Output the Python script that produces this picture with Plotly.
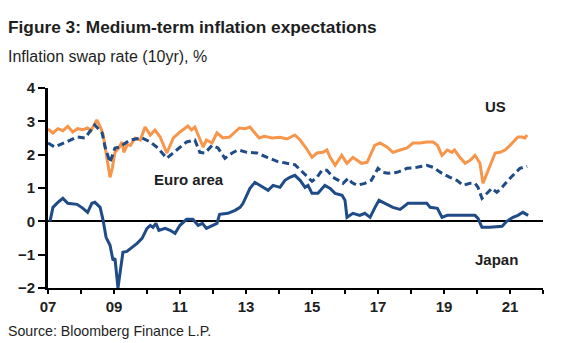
import plotly.graph_objects as go

us_x = [2007.0, 2007.15, 2007.3, 2007.45, 2007.6, 2007.75, 2007.9, 2008.05, 2008.2, 2008.3, 2008.48, 2008.6,
        2008.67, 2008.75, 2008.88, 2008.95, 2009.03, 2009.15, 2009.24, 2009.3, 2009.4, 2009.5, 2009.64, 2009.8,
        2009.94, 2010.1, 2010.24, 2010.4, 2010.6, 2010.8, 2011.0, 2011.24, 2011.35, 2011.45, 2011.6, 2011.7,
        2011.8, 2011.97, 2012.12, 2012.3, 2012.5, 2012.67, 2012.8, 2012.97, 2013.12, 2013.27, 2013.4, 2013.55,
        2013.8, 2014.03, 2014.24, 2014.48, 2014.64, 2014.8, 2015.0, 2015.15, 2015.33, 2015.45, 2015.55, 2015.7,
        2015.9, 2016.06, 2016.24, 2016.5, 2016.67, 2016.9, 2017.06, 2017.27, 2017.45, 2017.67, 2017.88, 2018.06,
        2018.27, 2018.48, 2018.67, 2018.8, 2018.94, 2019.1, 2019.24, 2019.32, 2019.48, 2019.64, 2019.79, 2019.94,
        2020.09, 2020.18, 2020.33, 2020.55, 2020.7, 2020.85, 2021.0, 2021.15, 2021.24, 2021.36, 2021.45, 2021.52]
us_y = [2.77, 2.65, 2.78, 2.72, 2.85, 2.68, 2.78, 2.75, 2.8, 2.72, 3.04, 2.8,
        2.6, 2.1, 1.32, 1.6, 2.07, 2.2, 2.38, 2.07, 2.3, 2.28, 2.5, 2.44,
        2.83, 2.59, 2.74, 2.53, 2.05, 2.5, 2.68, 2.86, 2.74, 2.83, 2.44, 2.23,
        2.44, 2.35, 2.65, 2.5, 2.53, 2.68, 2.8, 2.78, 2.83, 2.65, 2.5, 2.55,
        2.5, 2.52, 2.47, 2.59, 2.44, 2.23, 1.92, 2.05, 2.07, 2.14, 1.92, 1.68,
        1.98, 1.74, 1.92, 1.74, 1.77, 2.28, 2.35, 2.23, 2.07, 2.14, 2.2, 2.35,
        2.35, 2.38, 2.38, 2.28, 1.98, 2.14, 2.07, 2.14, 1.92, 1.74, 1.83, 1.98,
        1.74, 1.14, 1.53, 2.05, 2.07, 2.14, 2.28, 2.44, 2.53, 2.53, 2.5, 2.59]

eu_x = [2007.0, 2007.2, 2007.55, 2007.88, 2008.12, 2008.42, 2008.64, 2008.73, 2008.88, 2009.03, 2009.18, 2009.48,
        2009.85, 2010.1, 2010.33, 2010.6, 2010.9, 2011.2, 2011.45, 2011.6, 2011.76, 2011.97, 2012.15, 2012.36,
        2012.58, 2012.76, 2013.03, 2013.33, 2013.64, 2013.94, 2014.24, 2014.48, 2014.64, 2014.85, 2015.0, 2015.15,
        2015.3, 2015.45, 2015.64, 2015.8, 2015.94, 2016.1, 2016.2, 2016.36, 2016.6, 2016.8, 2017.0, 2017.15,
        2017.3, 2017.58, 2017.88, 2018.18, 2018.48, 2018.67, 2018.94, 2019.18, 2019.39, 2019.58, 2019.79, 2019.94,
        2020.03, 2020.15, 2020.3, 2020.45, 2020.6, 2020.76, 2020.94, 2021.15, 2021.3, 2021.52]
eu_y = [2.35, 2.23, 2.38, 2.53, 2.5, 2.89, 2.65, 2.23, 1.77, 2.2, 2.23, 2.44,
        2.5, 2.38, 2.2, 1.89, 2.14, 2.38, 2.44, 2.07, 2.05, 2.28, 2.2, 1.89,
        2.05, 2.14, 2.07, 2.05, 1.92, 1.8, 1.74, 1.7, 1.55, 1.35, 1.2, 1.32,
        1.53, 1.53, 1.32, 1.23, 1.14, 1.29, 1.17, 1.08, 1.14, 1.23, 1.59, 1.47,
        1.44, 1.47, 1.59, 1.62, 1.68, 1.62, 1.44, 1.32, 1.23, 1.08, 1.14, 1.14,
        1.02, 0.69, 0.84, 0.99, 0.87, 1.02, 1.23, 1.44, 1.59, 1.65]

jp_x = [2007.06, 2007.15, 2007.3, 2007.45, 2007.6, 2007.88, 2008.06, 2008.2, 2008.33, 2008.42, 2008.58, 2008.67,
        2008.76, 2008.88, 2008.97, 2009.03, 2009.12, 2009.2, 2009.27, 2009.39, 2009.55, 2009.7, 2009.85, 2010.0,
        2010.1, 2010.18, 2010.27, 2010.36, 2010.55, 2010.7, 2010.85, 2011.0, 2011.2, 2011.39, 2011.55, 2011.68,
        2011.8, 2011.97, 2012.12, 2012.2, 2012.45, 2012.67, 2012.82, 2012.91, 2013.03, 2013.12, 2013.27, 2013.42,
        2013.55, 2013.67, 2013.82, 2014.03, 2014.18, 2014.33, 2014.48, 2014.64, 2014.79, 2014.88, 2015.0, 2015.18,
        2015.39, 2015.55, 2015.7, 2015.91, 2016.0, 2016.06, 2016.24, 2016.45, 2016.6, 2016.76, 2016.91, 2017.03,
        2017.21, 2017.45, 2017.67, 2017.91, 2018.18, 2018.48, 2018.58, 2018.8, 2018.94, 2019.1, 2019.48, 2019.94,
        2020.03, 2020.15, 2020.39, 2020.76, 2020.9, 2021.09, 2021.24, 2021.39, 2021.55]
jp_y = [0.0, 0.42, 0.57, 0.69, 0.54, 0.51, 0.39, 0.27, 0.54, 0.57, 0.42, 0.03,
        -0.48, -0.72, -1.17, -1.11, -2.0, -1.47, -0.93, -0.9, -0.78, -0.66, -0.51, -0.21,
        -0.12, -0.18, -0.06, -0.27, -0.21, -0.27, -0.36, -0.12, 0.06, 0.06, -0.12, -0.06,
        -0.21, -0.12, -0.06, 0.21, 0.24, 0.33, 0.42, 0.54, 0.78, 0.99, 1.17, 1.08,
        1.02, 0.93, 1.08, 1.02, 1.23, 1.32, 1.38, 1.23, 1.02, 1.08, 0.84, 0.84,
        1.08, 0.99, 0.84, 0.78, 0.63, 0.12, 0.24, 0.18, 0.24, 0.12, 0.42, 0.63,
        0.54, 0.42, 0.36, 0.54, 0.54, 0.54, 0.42, 0.39, 0.12, 0.18, 0.18, 0.18,
        0.09, -0.18, -0.18, -0.15, 0.0, 0.12, 0.18, 0.27, 0.18]

year_ticks = list(range(2007, 2023))
year_labels = [str(y)[2:] if (y - 2007) % 2 == 0 and y <= 2021 else "" for y in year_ticks]
y_ticks = [-2, -1, 0, 1, 2, 3, 4]

ORANGE = "#F7964A"
NAVY = "#1F4B87"
TEXT = "#1e1e1e"
FONT = "Liberation Sans, Arial, sans-serif"

fig = go.Figure()
fig.add_trace(go.Scatter(x=us_x, y=us_y, mode="lines", line=dict(color=ORANGE, width=3), name="US"))
fig.add_trace(go.Scatter(x=eu_x, y=eu_y, mode="lines", line=dict(color=NAVY, width=3, dash="7px,4px"), name="Euro area"))
fig.add_trace(go.Scatter(x=jp_x, y=jp_y, mode="lines", line=dict(color=NAVY, width=3), name="Japan"))

fig.update_layout(
    width=575, height=343,
    margin=dict(l=48, r=32, t=88, b=55),
    paper_bgcolor="white", plot_bgcolor="white",
    showlegend=False,
    font=dict(family=FONT, color=TEXT),
    xaxis=dict(range=[2007, 2022], tickmode="array", tickvals=year_ticks, ticktext=year_labels,
               showgrid=False, zeroline=False, showline=True, linecolor="black", linewidth=2,
               ticks="outside", ticklen=4, tickwidth=2, tickcolor="black",
               tickfont=dict(family=FONT, size=15, color=TEXT, weight="bold")),
    yaxis=dict(range=[-2, 4], tickmode="array", tickvals=y_ticks, showgrid=False,
               zeroline=True, zerolinecolor="black", zerolinewidth=2,
               showline=True, linecolor="black", linewidth=3,
               ticks="outside", ticklen=7, tickwidth=2, tickcolor="black",
               tickfont=dict(family=FONT, size=15, color=TEXT, weight="bold")),
)

def pxx(x):
    return (x - 48) / 495.0

def pxy(y):
    return (288 - y) / 200.0

fig.add_annotation(text="<b>Figure 3: Medium-term inflation expectations</b>", xref="paper", yref="paper",
                   x=pxx(6), y=pxy(27), xanchor="left", yanchor="middle", showarrow=False,
                   font=dict(family=FONT, size=17.3, color=TEXT))
fig.add_annotation(text="Inflation swap rate (10yr), %", xref="paper", yref="paper",
                   x=pxx(6), y=pxy(56), xanchor="left", yanchor="middle", showarrow=False,
                   font=dict(family=FONT, size=16, color=TEXT))
fig.add_annotation(text="Source: Bloomberg Finance L.P.", xref="paper", yref="paper",
                   x=pxx(6), y=pxy(331), xanchor="left", yanchor="middle", showarrow=False,
                   font=dict(family=FONT, size=14.2, color=TEXT))

fig.add_annotation(text="<b>US</b>", x=2020.55, y=3.46, showarrow=False,
                   font=dict(family=FONT, size=15, color=TEXT))
fig.add_annotation(text="<b>Euro area</b>", x=2011.27, y=1.26, showarrow=False,
                   font=dict(family=FONT, size=15, color=TEXT))
fig.add_annotation(text="<b>Japan</b>", x=2020.6, y=-1.14, showarrow=False,
                   font=dict(family=FONT, size=15, color=TEXT))

fig.write_html("out.html")
